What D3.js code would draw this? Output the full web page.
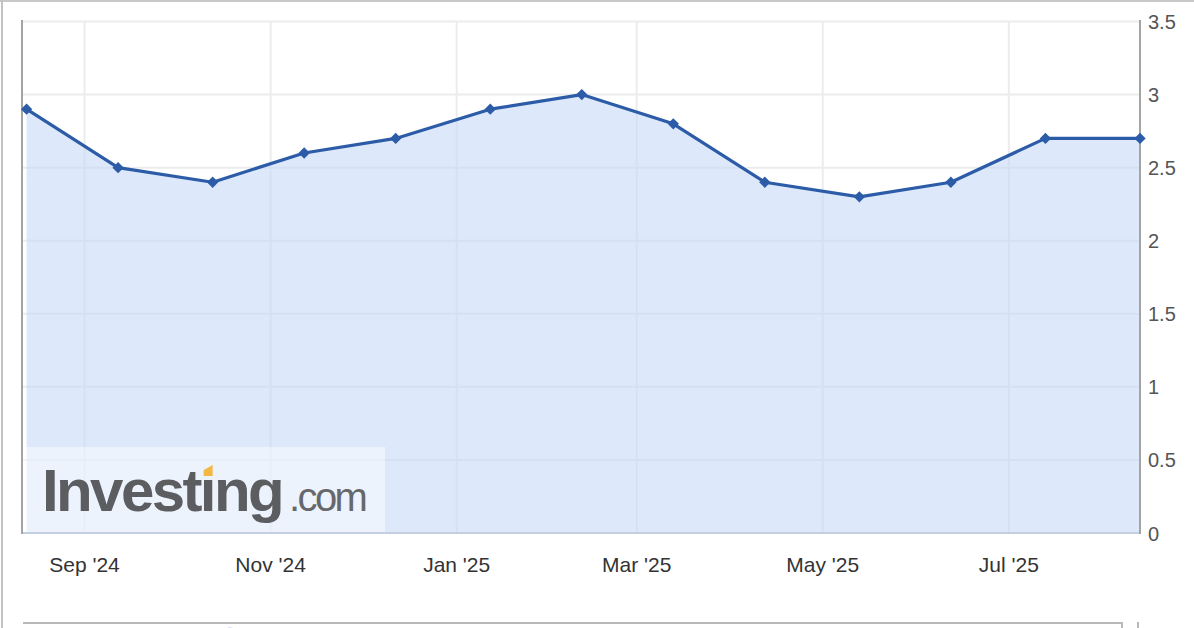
<!DOCTYPE html>
<html>
<head>
<meta charset="utf-8">
<script src="https://cdn.jsdelivr.net/npm/d3@7"></script>
<style>
  html, body { margin: 0; padding: 0; background: #fff; }
  svg { display: block; }
  text { font-family: "Liberation Sans", Arial, Helvetica, sans-serif; }
</style>
</head>
<body>
<svg id="chart" width="1194" height="628"></svg>
<script>
// ---- data ----
const pointDates = ["2024-08-13","2024-09-12","2024-10-13","2024-11-12","2024-12-12","2025-01-12",
                    "2025-02-11","2025-03-13","2025-04-12","2025-05-13","2025-06-12","2025-07-13","2025-08-13"];
const pointValues = [2.9, 2.5, 2.4, 2.6, 2.7, 2.9, 3.0, 2.8, 2.4, 2.3, 2.4, 2.7, 2.7];
const xTickDates = ["2024-09-01","2024-11-01","2025-01-01","2025-03-01","2025-05-01","2025-07-01"];
const xTickLabels = ["Sep '24","Nov '24","Jan '25","Mar '25","May '25","Jul '25"];
const yTickValues = [0, 0.5, 1, 1.5, 2, 2.5, 3, 3.5];
const yTickLabels = ["0","0.5","1","1.5","2","2.5","3","3.5"];
const xDomain = ["2024-08-11T12:00:00Z", "2025-08-13T00:00:00Z"];

const W = 1194, H = 628;
const plot = { left: 22, right: 1140, top: 21.5, bottom: 533 };

const svg = d3.select("#chart");
const parse = s => new Date(s.length === 10 ? s + "T00:00:00Z" : s);
const data = pointDates.map((d, i) => ({ date: parse(d), value: pointValues[i] }));

const x = d3.scaleUtc().domain(xDomain.map(parse)).range([plot.left, plot.right]);
const y = d3.scaleLinear().domain([0, 3.5]).range([plot.bottom, plot.top]);

// outer frame
svg.append("line").attr("x1", 0).attr("x2", W).attr("y1", 1).attr("y2", 1)
  .attr("stroke", "#c8c8c8").attr("stroke-width", 2);
svg.append("line").attr("x1", 2).attr("x2", 2).attr("y1", 0).attr("y2", H)
  .attr("stroke", "#c2c2c2").attr("stroke-width", 2);

// gridlines (under the translucent area)
const grid = svg.append("g").attr("stroke", "#ececec").attr("stroke-width", 2);
grid.selectAll("line.h").data(yTickValues.filter(v => v > 0)).join("line")
  .attr("x1", plot.left).attr("x2", plot.right)
  .attr("y1", d => y(d)).attr("y2", d => y(d));
grid.selectAll("line.v").data(xTickDates).join("line")
  .attr("x1", d => x(parse(d))).attr("x2", d => x(parse(d)))
  .attr("y1", plot.top).attr("y2", plot.bottom);

// area
const area = d3.area().x(d => x(d.date)).y0(y(0)).y1(d => y(d.value));
svg.append("path").datum(data).attr("d", area)
  .attr("fill", "rgb(196,217,248)").attr("fill-opacity", 0.58);

// watermark box + logo
const logo = svg.append("g");
logo.append("rect").attr("x", plot.left).attr("y", 447).attr("width", 363).attr("height", plot.bottom - 447)
  .attr("fill", "rgba(255,255,255,0.45)");

const t1 = logo.append("text").attr("x", 42).attr("y", 511)
  .attr("font-size", 60).attr("font-weight", "bold").attr("fill", "#5b5d60")
  .attr("letter-spacing", -2.6)
  .text("Investıng");
logo.append("text").attr("x", 289).attr("y", 511)
  .attr("font-size", 40).attr("fill", "#66686b")
  .attr("letter-spacing", -2.6)
  .text(".com");
// yellow i-dot
let dx0 = 205, dx1 = 213;
try {
  const ext = t1.node().getExtentOfChar(6);
  const cx = ext.x + (ext.width + 2.6) / 2;
  dx0 = cx - 4.5; dx1 = cx + 4.5;
} catch (e) {}
logo.append("path")
  .attr("d", `M${dx0},470 L${dx1},465 L${dx1},476 L${dx0},476 Z`)
  .attr("fill", "#f3b843");

// axes lines
svg.append("line").attr("x1", plot.left).attr("x2", plot.right).attr("y1", plot.bottom).attr("y2", plot.bottom)
  .attr("stroke", "#c3cee0").attr("stroke-width", 2);
svg.append("line").attr("x1", plot.left).attr("x2", plot.left).attr("y1", 20).attr("y2", plot.bottom + 1)
  .attr("stroke", "#a4a4a4").attr("stroke-width", 2);
svg.append("line").attr("x1", plot.right).attr("x2", plot.right).attr("y1", 20).attr("y2", plot.bottom + 1)
  .attr("stroke", "#a4a4a4").attr("stroke-width", 2);

// line + markers
const line = d3.line().x(d => x(d.date)).y(d => y(d.value));
svg.append("path").datum(data).attr("d", line)
  .attr("fill", "none").attr("stroke", "#2c5ca7").attr("stroke-width", 3.2)
  .attr("stroke-linejoin", "round");
svg.selectAll("path.m").data(data).join("path")
  .attr("class", "m")
  .attr("d", d3.symbol(d3.symbolSquare, 64))
  .attr("transform", d => `translate(${x(d.date)},${y(d.value)}) rotate(45)`)
  .attr("fill", "#2c5ca7");

// y axis labels (right)
svg.selectAll("text.yl").data(yTickValues).join("text")
  .attr("class", "yl")
  .attr("x", 1148).attr("y", d => y(d) + 7.5)
  .attr("font-size", 20).attr("fill", "#555")
  .text((d, i) => yTickLabels[i]);

// x axis labels
svg.selectAll("text.xl").data(xTickDates).join("text")
  .attr("class", "xl")
  .attr("x", d => x(parse(d))).attr("y", 572)
  .attr("text-anchor", "middle")
  .attr("font-size", 21).attr("fill", "#333")
  .text((d, i) => xTickLabels[i]);

// bottom navigator remnants
svg.append("line").attr("x1", 23).attr("x2", 1122).attr("y1", 623).attr("y2", 623)
  .attr("stroke", "#b9b9b9").attr("stroke-width", 2);
svg.append("line").attr("x1", 1122).attr("x2", 1122).attr("y1", 622).attr("y2", 628)
  .attr("stroke", "#b9b9b9").attr("stroke-width", 2);
svg.append("line").attr("x1", 1138).attr("x2", 1138).attr("y1", 622).attr("y2", 628)
  .attr("stroke", "#b9b9b9").attr("stroke-width", 2);
svg.append("circle").attr("cx", 230).attr("cy", 632).attr("r", 5).attr("fill", "#d6e2f3");
</script>
</body>
</html>
